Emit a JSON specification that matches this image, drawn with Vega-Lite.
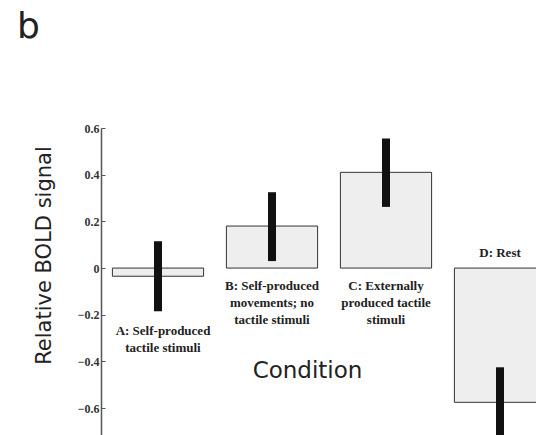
{
  "$schema": "https://vega.github.io/schema/vega-lite/v6.json",
  "autosize": {"type": "none"},
  "width": 435,
  "height": 307,
  "padding": {"left": 101, "top": 128, "right": 0, "bottom": 0},
  "background": "white",
  "title": {"text": "b", "anchor": "start", "frame": "group", "dx": -84, "offset": 76, "fontSize": 36, "font": "DejaVu Sans", "fontWeight": "normal", "color": "#222"},
  "config": {"view": {"stroke": null}},
  "data": {"values": [
    {"condition": "A", "value": -0.035, "lo": -0.185, "hi": 0.115, "label": ["A: Self-produced", "tactile stimuli"]},
    {"condition": "B", "value": 0.18, "lo": 0.03, "hi": 0.325, "label": ["B: Self-produced", "movements; no", "tactile stimuli"]},
    {"condition": "C", "value": 0.41, "lo": 0.262, "hi": 0.555, "label": ["C: Externally", "produced tactile", "stimuli"]},
    {"condition": "D", "value": -0.575, "lo": -0.725, "hi": -0.425, "label": ["D: Rest"]}
  ]},
  "encoding": {
    "x": {"field": "condition", "type": "nominal", "scale": {"type": "band", "range": [0, 456], "paddingInner": 0.2, "paddingOuter": 0.1},
      "axis": {"title": "Condition", "labels": false, "ticks": false, "domain": false, "titleFont": "DejaVu Sans", "titleFontSize": 23, "titleFontWeight": "normal", "titleColor": "#222", "titleX": 206, "titleY": -65, "titleBaseline": "middle", "titleAlign": "center"}}
  },
  "layer": [
    {"mark": {"type": "bar", "fill": "#eeeeee", "stroke": "#333", "strokeWidth": 1, "clip": true},
     "encoding": {
       "y": {"field": "value", "type": "quantitative", "scale": {"domain": [-0.715, 0.6], "nice": false, "zero": false},
         "axis": {"title": "Relative BOLD signal", "values": [-0.6, -0.4, -0.2, 0, 0.2, 0.4, 0.6], "format": ".1~f", "grid": false,
           "domainColor": "#555", "domainWidth": 1.5, "tickColor": "#555", "tickSize": -4, "labelPadding": 6,
           "labelFont": "Liberation Serif", "labelFontSize": 12, "labelFontWeight": "bold", "labelColor": "#333",
           "titleFont": "DejaVu Sans", "titleFontSize": 21, "titleFontWeight": "normal", "titleColor": "#222",
           "titleX": -57, "titleY": 127, "titleAngle": -90, "titleBaseline": "middle", "titleAlign": "center"}},
       "y2": {"datum": 0}
     }},
    {"mark": {"type": "rule", "color": "#444", "strokeWidth": 1.5},
     "encoding": {"y": {"datum": 0, "type": "quantitative"}}},
    {"mark": {"type": "rule", "color": "#111", "strokeWidth": 8, "clip": true},
     "encoding": {"y": {"field": "lo", "type": "quantitative"}, "y2": {"field": "hi"}}},
    {"transform": [{"filter": "datum.condition === 'A'"}],
     "mark": {"type": "text", "font": "Liberation Serif", "fontWeight": "bold", "fontSize": 13, "lineHeight": 17, "baseline": "top", "dy": 14, "dx": 5, "color": "#222"},
     "encoding": {"y": {"field": "lo", "type": "quantitative"}, "text": {"field": "label"}}},
    {"transform": [{"filter": "datum.condition === 'B' || datum.condition === 'C'"}],
     "mark": {"type": "text", "font": "Liberation Serif", "fontWeight": "bold", "fontSize": 13, "lineHeight": 17, "baseline": "top", "dy": 12, "color": "#222"},
     "encoding": {"y": {"datum": 0, "type": "quantitative"}, "text": {"field": "label"}}},
    {"transform": [{"filter": "datum.condition === 'D'"}],
     "mark": {"type": "text", "font": "Liberation Serif", "fontWeight": "bold", "fontSize": 13, "baseline": "middle", "dy": -15, "color": "#222"},
     "encoding": {"y": {"datum": 0, "type": "quantitative"}, "text": {"field": "label"}}}
  ]
}
